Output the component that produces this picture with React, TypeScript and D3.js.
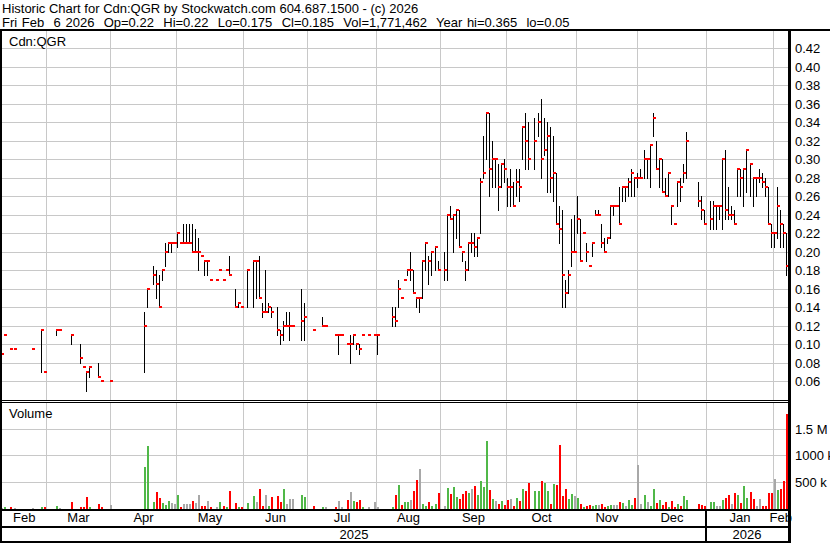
import React, { useRef, useEffect } from 'react';
import { select, scaleLinear, scaleBand, timeDay, timeFormat } from 'd3';

const _ = null;

// one slot per weekday, Feb 10 2025 .. Feb 6 2026; holidays / no-trade days stay empty
const firstDay = new Date(2025, 1, 10);
const lastDay = new Date(2026, 1, 7);

const header1 = 'Historic Chart for Cdn:QGR by Stockwatch.com 604.687.1500 - (c) 2026';
const header2 =
  'Fri Feb  6 2026  Op=0.22  Hi=0.22  Lo=0.175  Cl=0.185  Vol=1,771,462  Year hi=0.365  lo=0.05';
const symbol = 'Cdn:QGR';

const priceTicks = [0.06, 0.08, 0.1, 0.12, 0.14, 0.16, 0.18, 0.2, 0.22, 0.24, 0.26, 0.28, 0.3, 0.32, 0.34, 0.36, 0.38, 0.4, 0.42];
const volTicks = [500, 1000, 1500]; // thousands
const volTickLabels = ['500 k', '1000 k', '1.5 M'];

const close = [
  // Feb 2025
  .09, .11, _, .095, .095, _, _, _, _, _, .095, _, _, .115, .07,
  // Mar
  _, _, _, .115, .115, _, _, _, .11, _, _, .085, .075, .07, .075, _, _, .065, .06, _, _,
  // Apr
  .06, _, _, _, _, _, _, _, _, _, _, .12, .16, _, .175, .165, .14, .18, .20, .21, .21, .21,
  // May
  .22, .21, .21, .21, .21, .20, .20, .20, .195, .19, .19, .17, _, .17, .18, .17, .18, .175, _, .14, .145, .14,
  // Jun
  _, .18, _, .19, .19, .15, .135, .135, .14, .135, _, .115, .11, .12, .12, .12, .12, _, _, .125, .13,
  // Jul
  _, _, .115, _, _, .12, .12, _, _, .11, .11, .11, _, .10, .10, .11, .10, .095, .11, _, .11, _, .11,
  // Aug
  .11, _, _, _, _, .13, .125, .16, .15, .17, .18, .18, .155, .15, .15, .19, .21, .19, .20, .205, .18,
  // Sep
  _, .18, .24, .235, .24, .245, .205, .20, .18, .21, .21, .205, .215, .275, .285, .35, .29, .30, .30, .27, .295, .29,
  // Oct
  .27, .27, .25, .275, .27, .335, .32, .30, _, .32, .34, .30, .31, .325, .28, .285, .23, .225, .175, .155, .175, .20, .20,
  // Nov
  .235, .19, .22, .20, .185, .21, .24, .24, .21, .20, .215, .25, .25, .25, .23, .27, .27, .275, .285, .28,
  // Dec
  .28, .28, .30, .30, .315, .345, .29, .30, .265, .26, .285, .25, .23, .275, .27, .285, .32, _, _, _, .255, .245, .23,
  // Jan 2026
  _, .235, .25, .25, .25, .30, .245, .24, .24, .23, .29, .28, .29, .31, .295, .28, .28, .28, .275, .27, .23, .22,
  // Feb 2026
  .22, .25, .23, .22, .185,
];

const high = [
  .09, .11, _, .095, .095, _, _, _, _, _, .095, _, _, .115, .07,
  _, _, _, .115, .115, _, _, _, .11, _, _, .10, .075, .07, .075, _, _, .08, .06, _, _,
  .06, _, _, _, _, _, _, _, _, _, _, .135, .16, _, .185, .18, .175, .18, .21, .21, .21, .21,
  .22, .21, .23, .23, .23, .23, .225, .215, .195, .19, .19, .17, _, .17, .18, .17, .18, .195, _, .16, .145, .14,
  _, .18, _, .19, .19, .195, .145, .18, .145, .14, _, .14, .115, .125, .135, .135, .12, _, _, .16, .145,
  _, _, .115, _, _, .13, .12, _, _, .11, .11, .11, _, .10, .11, .11, .10, .10, .11, _, .11, _, .11,
  .11, _, _, _, _, .14, .14, .17, .15, .17, .18, .20, .18, .15, .15, .19, .21, .195, .20, .205, .19,
  _, .20, .24, .25, .24, .245, .245, .20, .19, .21, .22, .22, .215, .28, .325, .35, .35, .32, .30, .295, .295, .30,
  .28, .29, .275, .29, .29, .335, .35, .34, _, .345, .35, .365, .345, .34, .335, .325, .285, .25, .245, .17, .18, .235, .24,
  .26, .235, .22, .21, .185, .21, .245, .245, .23, .215, .215, .25, .25, .25, .27, .27, .27, .28, .29, .28,
  .285, .29, .31, .30, .315, .35, .32, .30, .30, .28, .285, .25, .23, .275, .28, .295, .33, _, _, _, .275, .26, .245,
  _, .255, .255, .25, .25, .30, .31, .27, .25, .245, .29, .29, .29, .31, .295, .28, .28, .29, .285, .28, .27, .23,
  .22, .27, .245, .23, .22,
];

const low = [
  .09, .11, _, .095, .095, _, _, _, _, _, .095, _, _, .07, .07,
  _, _, _, .11, .115, _, _, _, .10, _, _, .08, .075, .05, .065, _, _, .065, .06, _, _,
  .06, _, _, _, _, _, _, _, _, _, _, .07, .14, _, .165, .15, .14, .17, .185, .20, .20, .21,
  .205, .21, .21, .21, .21, .20, .20, .18, .195, .175, .175, .17, _, .17, .18, .17, .18, .175, _, .14, .14, .14,
  _, .14, _, .14, .15, .15, .13, .135, .135, .13, _, .11, .10, .105, .12, .105, .12, _, _, .105, .105,
  _, _, .115, _, _, .12, .12, _, _, .11, .09, .11, _, .10, .08, .10, .095, .09, .11, _, .11, _, .11,
  .09, _, _, _, _, .12, .12, .14, .15, .17, .175, .17, .155, .14, .135, .15, .18, .165, .175, .18, .18,
  _, .17, .17, .235, .20, .215, .205, .19, .17, .18, .20, .195, .195, .22, .28, .30, .26, .27, .27, .245, .27, .275,
  .25, .25, .25, .26, .255, .30, .29, .29, _, .29, .325, .28, .305, .265, .265, .255, .23, .21, .14, .14, .155, .185, .20,
  .22, .19, .22, .19, .185, .195, .24, .24, .205, .20, .21, .215, .24, .25, .23, .255, .255, .26, .26, .26,
  .27, .28, .28, .28, .27, .325, .29, .27, .265, .26, .26, .23, .23, .25, .255, .275, .28, _, _, _, .25, .235, .23,
  _, .225, .225, .225, .235, .225, .235, .235, .235, .23, .26, .26, .25, .265, .26, .25, .26, .275, .27, .26, .23, .205,
  .205, .215, .205, .205, .175,
];

// thousands of shares
const volume = [
  15, 25, _, 25, 20, _, _, _, _, _, 20, _, _, 25, 25,
  _, _, _, 45, 20, _, _, _, 120, _, _, 25, 25, 215, 25, _, _, 80, 25, _, _,
  75, _, _, _, _, _, _, _, _, _, _, 780, 1180, _, 120, 308, 208, 100, 63, 138, 100, 82,
  250, 25, 82, 95, 95, 138, 100, 250, 44, 44, 138, 25, _, 25, 120, 44, 25, 327, _, 100, 25, 25,
  _, 100, _, 233, 120, 365, 44, 250, 44, 214, _, 233, 120, 365, 82, 176, 176, _, _, 250, 214,
  _, _, 44, _, _, 25, 25, _, _, 25, 138, 25, _, 157, 308, 138, 120, 157, 25, _, 25, _, 120,
  25, _, _, _, _, 25, 250, 440, 63, 120, 120, 157, 327, 535, 742, 82, 44, 120, 44, 82, 290,
  _, 44, 384, 270, 403, 214, 176, 270, 327, 290, 365, 421, 250, 516, 403, 1270, 346, 176, 138, 82, 138, 63,
  157, 176, 44, 195, 138, 365, 327, 478, _, 327, 327, 516, 478, 327, 82, 460, 440, 1195, 233, 365, 176, 270, 233,
  195, 82, 25, 44, 63, 50, 63, 63, 82, 25, 44, 63, 63, 75, 120, 100, 44, 157, 63, 195,
  820, 82, 250, 120, 44, 365, 100, 157, 63, 120, 25, 138, 25, 82, 44, 233, 157, _, _, _, 82, 63, 44,
  _, 120, 120, 44, 44, 157, 195, 250, 82, 290, 250, 100, 421, 195, 308, 176, 44, 176, 44, 44, 290, 290,
  553, 346, 365, 516, 1771,
];

const W = 830;
const H = 543;
const FONT = "'Liberation Sans', Arial, sans-serif";

const App = () => {
  const svgRef = useRef(null);

  useEffect(() => {
    const svg = select(svgRef.current);
    svg.selectAll('*').remove();

    const slots = timeDay.range(firstDay, lastDay).filter((d) => d.getDay() % 6 !== 0);
    const idx = slots.map((d, i) => i);
    const plotL = 2;
    const plotR = 788;

    const x = scaleBand().domain(idx).range([-1.4, 786.1]);
    const y = scaleLinear().domain([0.06, 0.42]).range([381.3, 48.3]);
    const yVol = scaleLinear().domain([0, 1500]).range([508.7, 428.5]);
    const barX = (i) => Math.round(x(i) + 2.8);
    const gridX = (i) => Math.round(x(i) + 2) + 0.5;

    const monthStarts = idx.filter((i) => i > 0 && slots[i].getMonth() !== slots[i - 1].getMonth());
    const yearStart = monthStarts.find((i) => slots[i].getFullYear() !== slots[i - 1].getFullYear());

    svg.append('rect').attr('width', W).attr('height', H).attr('fill', '#fff');

    // grid
    const grid = svg.append('g').attr('stroke', '#c8c8c8').attr('stroke-width', 1).attr('shape-rendering', 'crispEdges');
    grid
      .selectAll('.hp')
      .data(priceTicks)
      .join('line')
      .attr('class', 'hp')
      .attr('x1', plotL)
      .attr('x2', plotR)
      .attr('y1', (d) => Math.round(y(d)) + 0.5)
      .attr('y2', (d) => Math.round(y(d)) + 0.5);
    grid
      .selectAll('.hv')
      .data(volTicks)
      .join('line')
      .attr('class', 'hv')
      .attr('x1', plotL)
      .attr('x2', plotR)
      .attr('y1', (d) => Math.round(yVol(d)) + 0.5)
      .attr('y2', (d) => Math.round(yVol(d)) + 0.5);
    grid
      .selectAll('.vp')
      .data(monthStarts)
      .join('line')
      .attr('class', 'vp')
      .attr('x1', gridX)
      .attr('x2', gridX)
      .attr('y1', 31)
      .attr('y2', 400);
    grid
      .selectAll('.vv')
      .data(monthStarts)
      .join('line')
      .attr('class', 'vv')
      .attr('x1', gridX)
      .attr('x2', gridX)
      .attr('y1', 403)
      .attr('y2', 509);

    // volume bars, coloured by close vs previous close
    let prev = null;
    const volBars = [];
    idx.forEach((i) => {
      if (close[i] == null) return;
      const col = prev == null || close[i] === prev ? '#a8a8a8' : close[i] > prev ? '#50b848' : '#ff0000';
      prev = close[i];
      if (volume[i] != null) volBars.push({ i, v: volume[i], col });
    });
    svg
      .append('g')
      .attr('shape-rendering', 'crispEdges')
      .selectAll('rect')
      .data(volBars)
      .join('rect')
      .attr('x', (d) => barX(d.i))
      .attr('width', 2)
      .attr('y', (d) => Math.min(507.7, yVol(d.v)))
      .attr('height', (d) => 509 - Math.min(507.7, yVol(d.v)))
      .attr('fill', (d) => d.col);

    // price bars: high-low line and close tick
    const days = idx.filter((i) => close[i] != null);
    const bars = svg.append('g').attr('shape-rendering', 'crispEdges');
    bars
      .selectAll('line')
      .data(days.filter((i) => high[i] > low[i]))
      .join('line')
      .attr('x1', (i) => barX(i) + 0.5)
      .attr('x2', (i) => barX(i) + 0.5)
      .attr('y1', (i) => Math.round(y(high[i])))
      .attr('y2', (i) => Math.round(y(low[i])) + 1)
      .attr('stroke', '#000')
      .attr('stroke-width', 1);
    bars
      .selectAll('rect')
      .data(days)
      .join('rect')
      .attr('x', (i) => barX(i))
      .attr('width', 3)
      .attr('y', (i) => Math.round(y(close[i])) - 1)
      .attr('height', 2)
      .attr('fill', '#ff0000');

    // frame
    const frame = svg.append('g').attr('fill', '#000').attr('shape-rendering', 'crispEdges');
    const box = (x0, y0, w, h) => frame.append('rect').attr('x', x0).attr('y', y0).attr('width', w).attr('height', h);
    box(0, 29, W, 2);
    box(0, 29, 2, H - 29);
    box(plotR, 29, 3, H - 29);
    box(0, 400, plotR, 1);
    box(0, 402, plotR, 1);
    box(0, 509, plotR, 2);
    box(0, 526, plotR, 2);
    box(0, 541, plotR + 2, 2);
    const yx = Math.round(x(yearStart) + 2);
    box(yx - 1, 509, 2, 32);

    // texts
    const txt = svg.append('g').attr('font-family', FONT).attr('font-size', 13).attr('fill', '#000');
    txt.append('text').attr('x', 2).attr('y', 13).text(header1);
    txt
      .append('text')
      .attr('x', 2)
      .attr('y', 27)
      .style('white-space', 'pre')
      .style('word-spacing', '1.05px')
      .text(header2);
    txt.append('text').attr('x', 9).attr('y', 46).text(symbol);
    txt.append('text').attr('x', 9).attr('y', 418).text('Volume');

    txt
      .selectAll('.pl')
      .data(priceTicks)
      .join('text')
      .attr('class', 'pl')
      .attr('x', 795)
      .attr('y', (d) => Math.round(y(d)) + 5)
      .text((d) => d.toFixed(2));
    txt
      .selectAll('.vl')
      .data(volTicks)
      .join('text')
      .attr('class', 'vl')
      .attr('x', 795)
      .attr('y', (d) => Math.round(yVol(d)) + 5)
      .text((d, k) => volTickLabels[k]);

    const edges = [plotL, ...monthStarts.map(gridX), plotR];
    const months = [0, ...monthStarts].map((s, k) => ({
      label: timeFormat('%b')(slots[s]),
      cx: (edges[k] + edges[k + 1]) / 2,
    }));
    txt
      .selectAll('.ml')
      .data(months)
      .join('text')
      .attr('class', 'ml')
      .attr('x', (d) => d.cx)
      .attr('y', 522)
      .attr('text-anchor', 'middle')
      .text((d) => d.label);

    const years = [
      { label: String(slots[0].getFullYear()), cx: (plotL + yx) / 2 },
      { label: String(slots[yearStart].getFullYear()), cx: (yx + plotR) / 2 },
    ];
    txt
      .selectAll('.yl')
      .data(years)
      .join('text')
      .attr('class', 'yl')
      .attr('x', (d) => d.cx)
      .attr('y', 539)
      .attr('text-anchor', 'middle')
      .text((d) => d.label);
  }, []);

  return (
    <div>
      <style>{'body{margin:0}'}</style>
      <svg ref={svgRef} width={W} height={H} style={{ display: 'block' }} />
    </div>
  );
};

export default App;
